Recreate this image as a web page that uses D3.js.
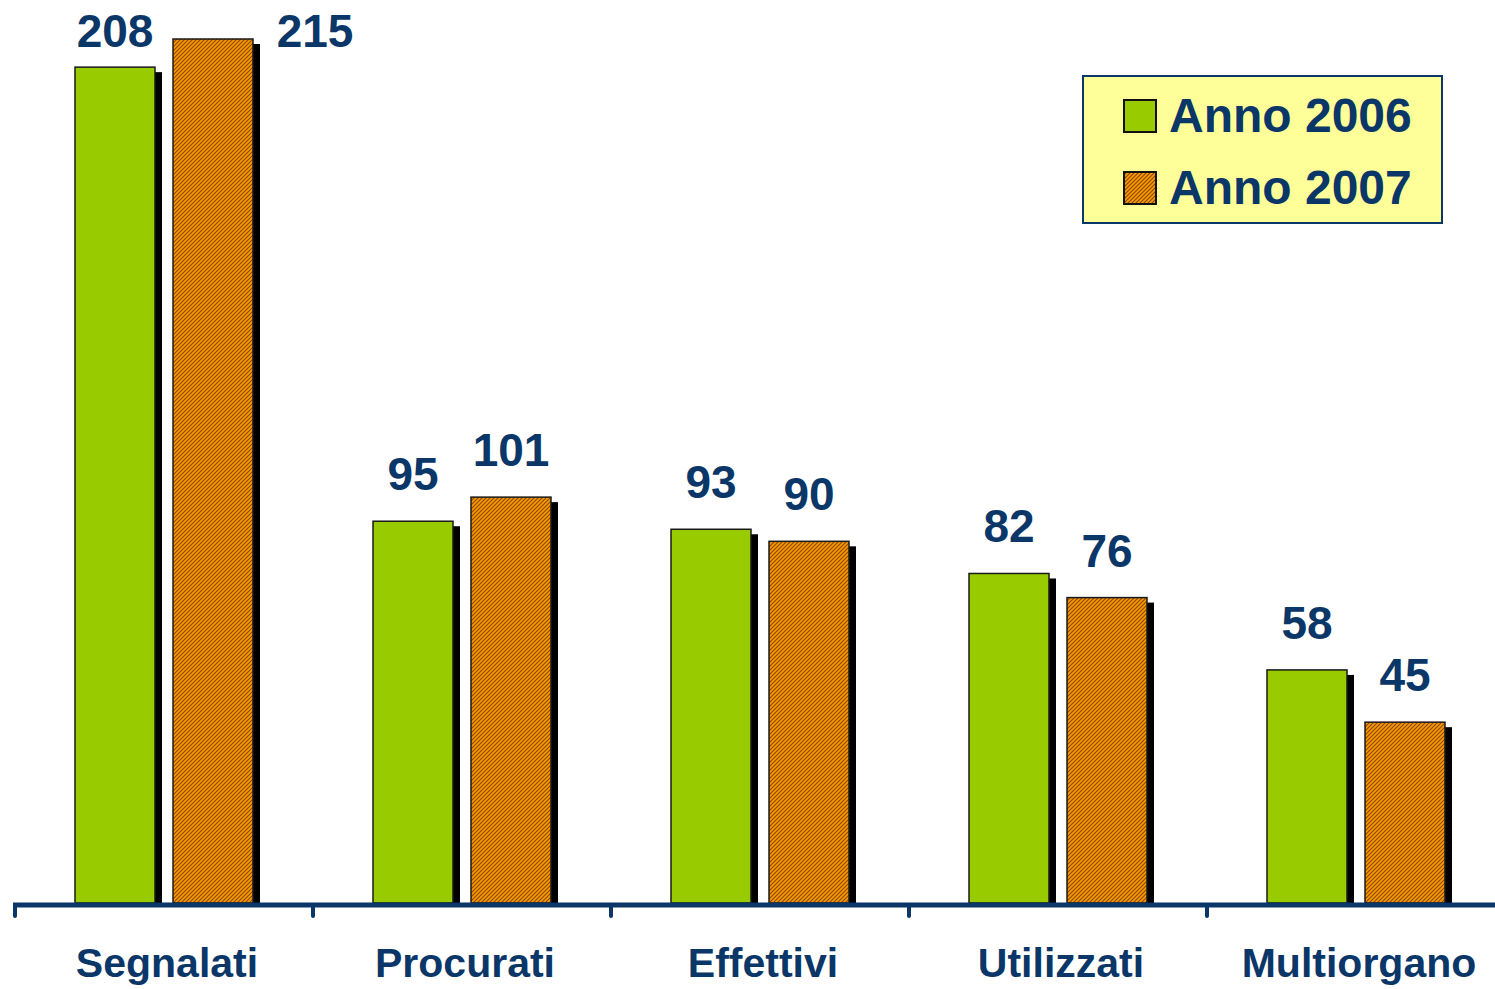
<!DOCTYPE html>
<html><head><meta charset="utf-8">
<script src="https://cdn.jsdelivr.net/npm/d3@7"></script>
<style>html,body{margin:0;padding:0;background:#fff;}svg{display:block;}</style>
</head><body>
<script>
const categories = ["Segnalati","Procurati","Effettivi","Utilizzati","Multiorgano"];
const values2006 = [208, 95, 93, 82, 58];
const values2007 = [215, 101, 90, 76, 45];
const seriesNames = ["Anno 2006","Anno 2007"];

const W = 1495, H = 989;
const navy = "#0a3668";
const svg = d3.select("body").append("svg").attr("width", W).attr("height", H);

const defs = svg.append("defs");
const pat = defs.append("pattern").attr("id","hatch").attr("patternUnits","userSpaceOnUse")
  .attr("width",4).attr("height",4);
pat.append("rect").attr("width",4).attr("height",4).attr("fill","#f59a00");
pat.append("path").attr("d","M-1,1 l2,-2 M0,4 l4,-4 M3,5 l2,-2")
  .attr("stroke","#8f4400").attr("stroke-width",1.1);

const baseY = 903;
const x = d3.scaleBand().domain(categories).range([15, 1505]);
const y = d3.scaleLinear().domain([0, 215]).range([baseY, 39]);
const inner = d3.scaleBand().domain(seriesNames).range([-89, 89]).paddingInner(18/98);

const data = [];
categories.forEach((c,i)=>{
  data.push({c, s: seriesNames[0], v: values2006[i]});
  data.push({c, s: seriesNames[1], v: values2007[i]});
});
const bx = d => x(d.c) + x.bandwidth()/2 + inner(d.s);
const bw = inner.bandwidth();

// shadows
svg.append("g").selectAll("rect").data(data).join("rect")
  .attr("x", d => bx(d) + 7).attr("y", d => y(d.v) + 5)
  .attr("width", bw).attr("height", d => baseY - y(d.v) - 5)
  .attr("fill", "#000");
// bars
svg.append("g").selectAll("rect").data(data).join("rect")
  .attr("x", d => bx(d)).attr("y", d => y(d.v))
  .attr("width", bw).attr("height", d => baseY - y(d.v))
  .attr("fill", d => d.s === seriesNames[0] ? "#99cc00" : "url(#hatch)")
  .attr("stroke", "#1a1a1a").attr("stroke-width", 1.5);

// value labels
const labY = d => Math.max(y(d.v) - 31, 47);
svg.append("g").selectAll("text").data(data).join("text")
  .attr("x", d => (labY(d) > y(d.v) - 20) && d.s === seriesNames[1] ? bx(d) + bw + 62 : bx(d) + bw/2)
  .attr("y", labY)
  .attr("text-anchor","middle")
  .attr("font-family","'Liberation Sans', Arial, sans-serif")
  .attr("font-weight","bold").attr("font-size", 46).attr("fill", navy)
  .text(d => d.v);

// axis
const axis = d3.axisBottom(x).tickSize(0).tickFormat("");
const ag = svg.append("g").attr("transform", `translate(0,${baseY + 2})`).call(axis);
ag.select(".domain").remove();
ag.append("line").attr("x1", 13).attr("x2", W).attr("y1", 0).attr("y2", 0)
  .attr("stroke", navy).attr("stroke-width", 5);
ag.selectAll(".b").data(categories).join("line")
  .attr("x1", d => x(d)).attr("x2", d => x(d)).attr("y1", 0).attr("y2", 11)
  .attr("stroke", navy).attr("stroke-width", 4).attr("stroke-linecap","round");

// category labels
svg.append("g").selectAll("text").data(categories).join("text")
  .attr("x", d => x(d) + x.bandwidth()/2 + 3).attr("y", 977)
  .attr("text-anchor","middle")
  .attr("font-family","'Liberation Sans', Arial, sans-serif")
  .attr("font-weight","bold").attr("font-size", 41).attr("fill", navy)
  .text(d => d);

// legend
const lg = svg.append("g").attr("transform","translate(1083,76)");
lg.append("rect").attr("width",359).attr("height",147).attr("fill","#ffff99")
  .attr("stroke", navy).attr("stroke-width",2);
seriesNames.forEach((s,i)=>{
  const gy = 24 + i*72;
  lg.append("rect").attr("x",41).attr("y",gy).attr("width",32).attr("height",32)
    .attr("fill", i===0 ? "#99cc00" : "url(#hatch)").attr("stroke","#111").attr("stroke-width",2);
  lg.append("text").attr("x",86).attr("y",gy+32)
    .attr("font-family","'Liberation Sans', Arial, sans-serif")
    .attr("font-weight","bold").attr("font-size",48).attr("fill",navy).text(s);
});
</script>
</body></html>
